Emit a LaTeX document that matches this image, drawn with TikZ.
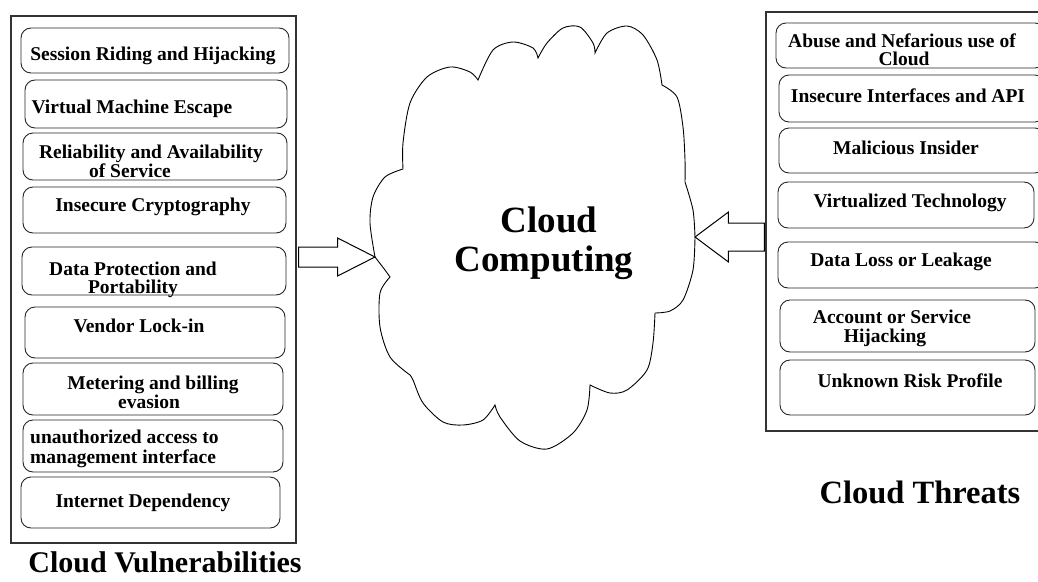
\documentclass[tikz,border=0pt]{standalone}
\usepackage{fontspec}
\setmainfont{Liberation Serif}
\usetikzlibrary{calc}
\begin{document}
\begin{tikzpicture}[x=1pt,y=-1pt,
  outerbox/.style={draw=black!80, line width=1.1pt, inner sep=0pt},
  ibox/.style={draw=black!85, line width=0.9pt, rounded corners=10pt, inner sep=0pt},
  itxt/.style={font=\fontsize{19.5}{20}\selectfont\bfseries, inner sep=0pt, anchor=base},
  ltxt/.style={itxt, anchor=base west},
  bigtxt/.style={font=\fontsize{37}{38}\selectfont\bfseries, inner sep=0pt, anchor=base},
  captxt/.style={font=\fontsize{30}{30}\selectfont\bfseries, inner sep=0pt, anchor=base},
  blockarrow/.style={draw=black, line width=1pt, fill=white, line join=miter},
  cloudline/.style={draw=black, line width=0.9pt}]
\useasboundingbox (0,0) rectangle (1038,581);
\clip (0,0) rectangle (1038,581);

% ---------- left panel ----------
\node[outerbox, minimum width=285pt, minimum height=527pt] (vbox) at (153.5,279.5) {};
\node[ibox, minimum width=268pt, minimum height=45pt] (v1) at (155,50.5) {};
\node[ibox, minimum width=262pt, minimum height=48pt] (v2) at (156,104) {};
\node[ibox, minimum width=264pt, minimum height=47pt] (v3) at (155,156.5) {};
\node[ibox, minimum width=263pt, minimum height=46pt] (v4) at (154.5,210) {};
\node[ibox, minimum width=264pt, minimum height=48pt] (v5) at (154,271) {};
\node[ibox, minimum width=260pt, minimum height=51pt] (v6) at (155,332.5) {};
\node[ibox, minimum width=260pt, minimum height=52pt] (v7) at (153,389) {};
\node[ibox, minimum width=260pt, minimum height=52pt] (v8) at (153,446) {};
\node[ibox, minimum width=259pt, minimum height=51pt] (v9) at (150.5,502.5) {};

\node[itxt] (t1) at (153,60) {Session Riding and Hijacking};
\node[itxt] (t2) at (132,113) {Virtual Machine Escape};
\node[itxt] (t3a) at (151,158) {Reliability and Availability};
\node[itxt] (t3b) at (130,177) {of Service};
\node[itxt] (t4) at (153,211) {Insecure Cryptography};
\node[itxt] (t5a) at (133,275) {Data Protection and};
\node[itxt] (t5b) at (133,293) {Portability};
\node[itxt] (t6) at (139,332) {Vendor Lock-in};
\node[itxt] (t7a) at (153,389) {Metering and billing};
\node[itxt] (t7b) at (149,408) {evasion};
\node[ltxt] (t8a) at (30,443) {unauthorized access to};
\node[ltxt] (t8b) at (30,463) {management interface};
\node[itxt] (t9) at (143,507) {Internet Dependency};
\node[captxt] (vlab) at (165,572) {Cloud Vulnerabilities};

% ---------- right panel ----------
\node[outerbox, minimum width=284pt, minimum height=419pt] (tbox) at (908,221.5) {};
\node[ibox, minimum width=269pt, minimum height=45pt] (w1) at (910.5,45.5) {};
\node[ibox, minimum width=266pt, minimum height=47pt] (w2) at (912,98.5) {};
\node[ibox, minimum width=266pt, minimum height=45pt] (w3) at (912,150.5) {};
\node[ibox, minimum width=256pt, minimum height=46pt] (w4) at (906,205) {};
\node[ibox, minimum width=267pt, minimum height=46pt] (w5) at (911.5,265) {};
\node[ibox, minimum width=255pt, minimum height=52pt] (w6) at (907.5,326) {};
\node[ibox, minimum width=255pt, minimum height=55pt] (w7) at (907.5,387.5) {};

\node[itxt] (r1a) at (902,47) {Abuse and Nefarious use of};
\node[itxt] (r1b) at (904,65) {Cloud};
\node[itxt] (r2) at (908,102) {Insecure Interfaces and API};
\node[itxt] (r3) at (906,154) {Malicious Insider};
\node[itxt] (r4) at (910,207) {Virtualized Technology};
\node[itxt] (r5) at (901,266) {Data Loss or Leakage};
\node[itxt] (r6a) at (892,323) {Account or Service};
\node[itxt] (r6b) at (885,342) {Hijacking};
\node[itxt] (r7) at (910,387) {Unknown Risk Profile};
\node[captxt, font=\fontsize{32.5}{33}\selectfont\bfseries] (tlab) at (920,503) {Cloud Threats};

% ---------- cloud ----------
\coordinate (cW) at (375,257);
\coordinate (cE) at (695,237);
\draw[cloudline]
  plot[smooth] coordinates {(cW) (370,223) (373,197) (385,177) (403,169)}
  -- plot[smooth] coordinates {(403,169) (403,143) (410,103) (427,77) (450,67) (470,72) (478,80)}
  -- plot[smooth] coordinates {(478,80) (493,50) (513,42) (533,48) (538,58)}
  -- plot[smooth] coordinates {(538,58) (547,43) (563,28) (580,27) (593,43) (595,53)}
  -- plot[smooth] coordinates {(595,53) (607,33) (627,26) (643,35) (657,60) (662,85)}
  -- plot[smooth] coordinates {(662,85) (677,97) (683,127) (685,160) (685,182)}
  -- plot[smooth] coordinates {(685,182) (693,210) (cE)}
  -- plot[smooth] coordinates {(cE) (693,270) (683,300) (670,311) (655,313)}
  -- plot[smooth] coordinates {(655,313) (653,343) (647,370) (627,390) (610,393) (590,385)}
  -- plot[smooth] coordinates {(590,385) (587,410) (573,433) (547,449) (520,441) (500,417) (495,405)}
  -- plot[smooth] coordinates {(495,405) (483,420) (463,425) (443,422) (423,403) (413,380) (410,375)}
  -- plot[smooth] coordinates {(410,375) (390,357) (380,327) (380,293) (390,277)}
  -- plot[smooth] coordinates {(390,277) (385,270) (cW)};
\node[bigtxt] (cc1) at (549,232) {Cloud};
\node[bigtxt] (cc2) at (544,271) {Computing};

% ---------- block arrows ----------
\coordinate (A) at (vbox.east |- cW);
\draw[blockarrow] ($(A)+(2,-10)$) -- ($(A)+(41,-10)$) -- ($(A)+(41,-19)$) -- (cW)
  -- ($(A)+(41,19)$) -- ($(A)+(41,10)$) -- ($(A)+(2,10)$) -- cycle;
\coordinate (B) at (tbox.west |- cE);
\draw[blockarrow] ($(B)+(-1,-14)$) -- ($(B)+(-37,-14)$) -- ($(B)+(-37,-25)$) -- (cE)
  -- ($(B)+(-37,25)$) -- ($(B)+(-37,14)$) -- ($(B)+(-1,14)$) -- cycle;
\end{tikzpicture}
\end{document}
